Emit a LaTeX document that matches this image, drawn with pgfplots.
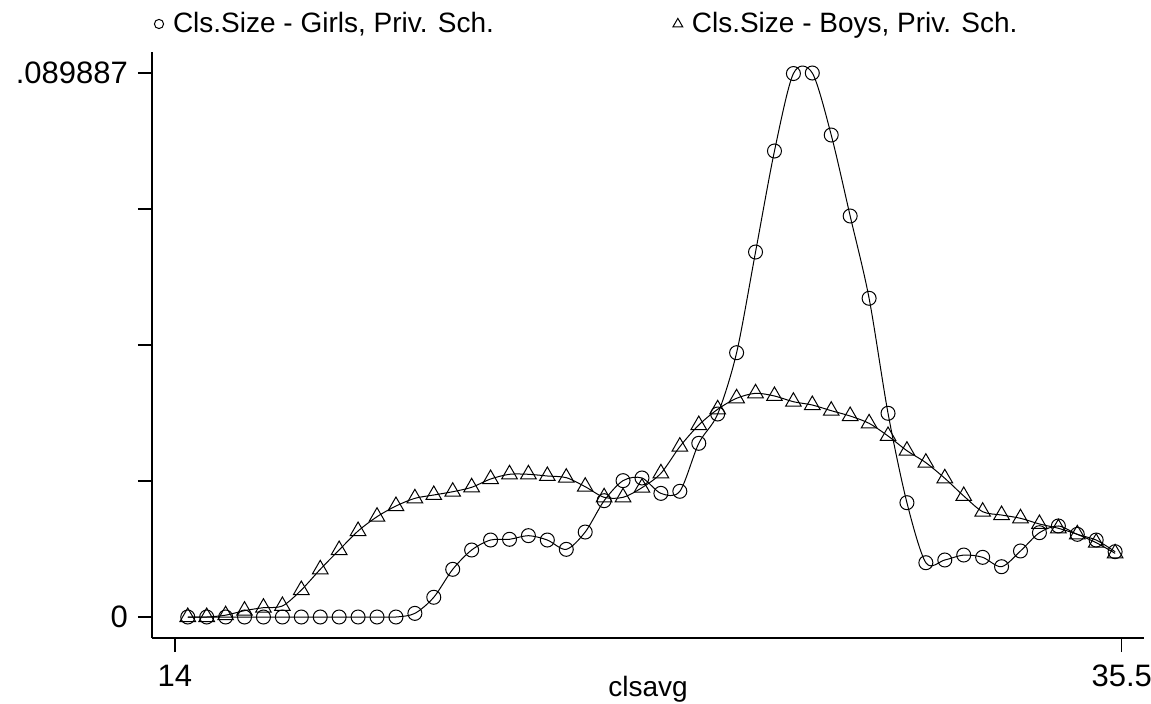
\documentclass[border=0pt]{standalone}
\usepackage{fontspec}
\setmainfont{Liberation Sans}
\usepackage{pgfplots}
\usepackage{pgfplotstable}
\pgfplotsset{compat=1.18}

% kernel density estimates, 50 grid points
\pgfplotstableread{
x      girls     boys
14.290 0         0
14.720 0         0
15.150 0         0.0003
15.579 0         0.00105
16.009 0         0.00154
16.439 0         0.00182
16.869 0         0.00446
17.299 0         0.00788
17.728 0         0.01107
18.158 0         0.01421
18.588 0         0.01657
19.018 0         0.01834
19.448 0.0006    0.01961
19.877 0.00326   0.02016
20.307 0.00788   0.0207
20.737 0.01107   0.02143
21.167 0.01272   0.0228
21.597 0.01284   0.02358
22.026 0.01344   0.02358
22.456 0.01272   0.0233
22.886 0.01118   0.02302
23.316 0.01404   0.02153
23.746 0.01922   0.01978
24.175 0.02253   0.01978
24.605 0.02297   0.02137
25.035 0.02043   0.02374
25.465 0.02077   0.02815
25.895 0.0287    0.03172
26.324 0.03354   0.03432
26.754 0.04367   0.03614
27.184 0.06031   0.03696
27.614 0.077     0.03652
28.044 0.0898    0.03557
28.473 0.089887  0.03503
28.903 0.07964   0.03409
29.333 0.06626   0.03321
29.763 0.05266   0.032
30.193 0.03366   0.02991
30.622 0.01889   0.02748
31.052 0.00897   0.0255
31.482 0.00942   0.02292
31.912 0.01024   0.02
32.342 0.00986   0.0174
32.771 0.00831   0.01685
33.201 0.01091   0.01631
33.631 0.01393   0.01537
34.061 0.01504   0.01466
34.491 0.01366   0.01366
34.920 0.01272   0.01228
35.350 0.01079   0.01052
}\densities

\begin{document}
\begin{tikzpicture}
\useasboundingbox (0pt,0pt) rectangle (575.5pt,351.5pt);
\begin{axis}[
    at={(76pt,32.5pt)}, anchor=south west,
    scale only axis,
    width=496pt, height=293pt,
    xmin=13.478, xmax=36.006,
    ymin=-0.00347, ymax=0.09336,
    scaled y ticks=false, scaled x ticks=false,
    axis x line*=bottom, axis y line*=left,
    axis line style={line width=0.7pt, black},
    xtick={14,35.5}, xticklabels={14,35.5},
    ytick={0,0.02247175,0.0449435,0.06741525,0.089887},
    yticklabels={0,,,,.089887},
    tick align=outside, major tick length=7pt,
    tick style={line width=0.6pt, black},
    every tick label/.append style={font=\fontsize{15.5}{17}\selectfont},
    xticklabel style={yshift=-3pt},
    yticklabel style={xshift=-1.5pt},
    xlabel={clsavg},
    x label style={at={(axis description cs:0.5,0)}, anchor=base, yshift=-29pt, font=\fontsize{14}{16}\selectfont},
    legend columns=2,
    legend style={at={(axis description cs:0,1)}, anchor=west, yshift=14pt, xshift=-2pt,
        draw=none, fill=none, font=\fontsize{14}{16}\selectfont,
        /tikz/every even column/.append style={column sep=87.5pt}},
    legend cell align=left,
    clip=false,
]
\addplot[black, line width=0.5pt, smooth, mark=o, mark size=3.5pt,
    mark options={solid, line width=0.5pt},
    legend image code/.code={\path[draw=none] (0pt,0pt) -- (5pt,0pt);
        \draw[black, line width=0.5pt, mark=o, mark size=2.3pt] plot coordinates {(0pt,0pt)};}]
    table[x=x, y=girls] {\densities};
\addlegendentry{Cls.Size - Girls, Priv. Sch.}
\addplot[black, line width=0.5pt, smooth, mark=triangle, mark size=4.5pt,
    mark options={solid, line width=0.5pt},
    legend image code/.code={\path[draw=none] (0pt,0pt) -- (5pt,0pt);
        \draw[black, line width=0.5pt, mark=triangle, mark size=2.8pt] plot coordinates {(0pt,0pt)};}]
    table[x=x, y=boys] {\densities};
\addlegendentry{Cls.Size - Boys, Priv. Sch.}
\end{axis}
\end{tikzpicture}
\end{document}
